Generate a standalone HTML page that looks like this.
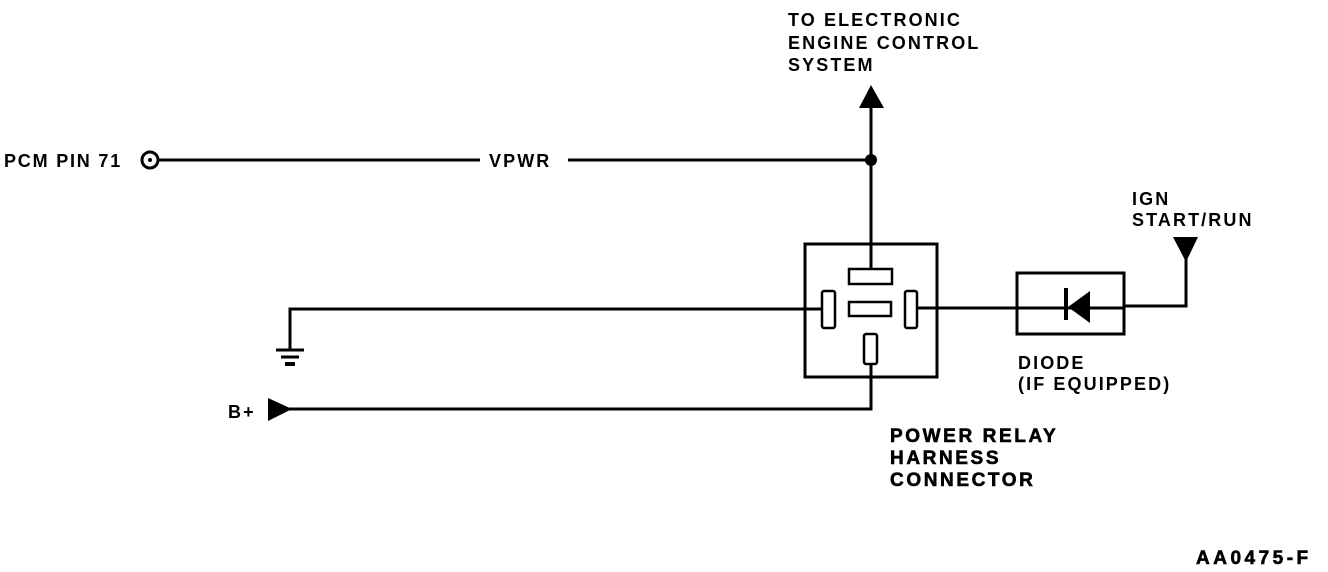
<!DOCTYPE html>
<html><head><style>
body{margin:0;background:#fff}
svg{display:block}
text{font-family:"Liberation Sans",sans-serif;font-size:18px;fill:#000;font-weight:bold;letter-spacing:2.1px}
.b{font-size:19px;letter-spacing:2.6px;stroke:#000;stroke-width:0.6px}
</style></head><body>
<svg width="1328" height="572" viewBox="0 0 1328 572">
<g stroke="#000" stroke-width="3" fill="none">
<circle cx="150" cy="160" r="8"/>
<line x1="158" y1="160" x2="480" y2="160"/>
<line x1="568" y1="160" x2="871" y2="160"/>
<line x1="871" y1="105" x2="871" y2="269"/>
<rect x="805" y="244" width="132" height="133"/>
<rect x="849" y="269" width="43" height="15" stroke-width="2.5"/>
<rect x="849" y="302" width="42" height="14" stroke-width="2.5"/>
<rect x="822" y="291" width="13" height="37" rx="2" stroke-width="2.5"/>
<rect x="905" y="291" width="12" height="37" rx="2" stroke-width="2.5"/>
<rect x="864" y="334" width="13" height="30" rx="2" stroke-width="2.5"/>
<polyline points="822,309 290,309 290,350"/>
<line x1="276" y1="350" x2="304" y2="350"/>
<line x1="281" y1="357" x2="299" y2="357"/>
<line x1="285" y1="364" x2="295" y2="364" stroke-width="4"/>
<polyline points="871,364 871,409 285,409"/>
<line x1="917" y1="308" x2="1017" y2="308"/>
<rect x="1017" y="273" width="107" height="61"/>
<line x1="1017" y1="308" x2="1124" y2="308"/>
<line x1="1066" y1="288" x2="1066" y2="320" stroke-width="4"/>
<polyline points="1124,306 1186,306 1186,255"/>
</g>
<circle cx="871" cy="160" r="6" fill="#000"/>
<circle cx="150" cy="160" r="2" fill="#000"/>
<polygon points="871,85 859,108 884,108" fill="#000"/>
<polygon points="1068,307 1090,291 1090,323" fill="#000"/>
<polygon points="1173,237 1198,237 1186,262" fill="#000"/>
<polygon points="268,398 268,421 292,409" fill="#000"/>
<text x="4" y="167" style="letter-spacing:1.8px">PCM PIN 71</text>
<text x="489" y="167">VPWR</text>
<text x="788" y="26">TO ELECTRONIC</text>
<text x="788" y="49">ENGINE CONTROL</text>
<text x="788" y="71">SYSTEM</text>
<text x="1132" y="205">IGN</text>
<text x="1132" y="226">START/RUN</text>
<text x="1018" y="369">DIODE</text>
<text x="1018" y="390">(IF EQUIPPED)</text>
<text x="228" y="418">B+</text>
<text class="b" x="890" y="442">POWER RELAY</text>
<text class="b" x="890" y="464">HARNESS</text>
<text class="b" x="890" y="486">CONNECTOR</text>
<text class="b" x="1196" y="564" style="letter-spacing:3.5px">AA0475-F</text>
</svg>
</body></html>
